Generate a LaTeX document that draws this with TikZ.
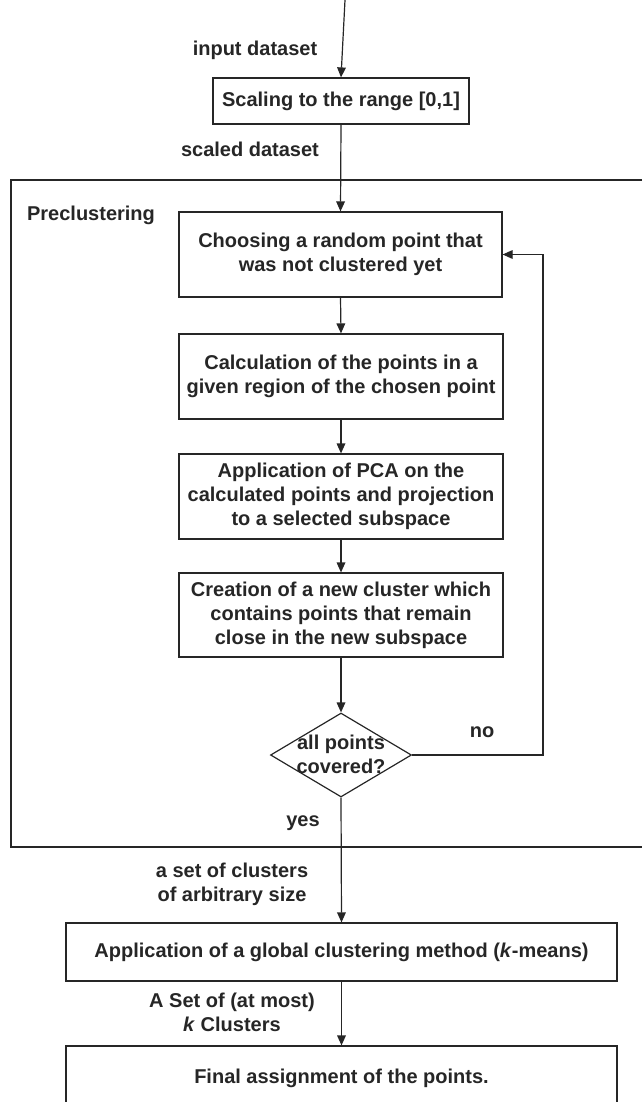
\documentclass[tikz,border=0pt]{standalone}
\usepackage{fontspec}
\setmainfont{Liberation Sans}
\usetikzlibrary{arrows.meta,shapes.geometric}
\definecolor{ink}{gray}{0.15}
\tikzset{
  px/.style={x=0.75pt,y=-0.75pt},
  lbl/.style={font=\bfseries\fontsize{15}{18}\selectfont,text=ink,align=center,inner sep=0pt},
  stepbox/.style={draw=ink,line width=0.9pt,lbl,inner sep=0pt},
  conn/.style={draw=ink,line width=0.9pt,-{Triangle[length=7.5pt,width=6.5pt]}},
  plain/.style={draw=ink,line width=0.9pt}
}
\begin{document}
\begin{tikzpicture}[px]
\useasboundingbox (0,0) rectangle (642,1102);
% preclustering frame
\draw[plain] (642,180) -- (11,180) -- (11,847) -- (642,847);
\node[lbl] (pre) at (91,215) {Preclustering};

\coordinate (top) at (345,0);
\node[stepbox,minimum width=192pt,minimum height=34.5pt] (scale) at (341,101) {Scaling to the range [0,1]};
\node[lbl] (inp) at (255,50) {input dataset};
\node[lbl] (sc) at (250,149) {scaled dataset};

\node[stepbox,minimum width=242.25pt,minimum height=63.75pt] (b1) at (340.5,254.5) {Choosing a random point that\\was not clustered yet};
\node[stepbox,minimum width=243pt,minimum height=63.75pt] (b2) at (341,376.5) {Calculation of the points in a\\given region of the chosen point};
\node[stepbox,minimum width=243pt,minimum height=63.75pt] (b3) at (341,496.5) {Application of PCA on the\\calculated points and projection\\to a selected subspace};
\node[stepbox,minimum width=243pt,minimum height=63pt] (b4) at (341,615) {Creation of a new cluster which\\contains points that remain\\close in the new subspace};

\node[draw=ink,line width=0.9pt,diamond,minimum width=105.75pt,minimum height=63pt,inner sep=0pt] (dec) at (341,755) {};
\node[lbl] (declbl) at (341,754) {all points\\covered?};
\node[lbl] (no) at (482,732) {no};
\node[lbl] (yes) at (303,823) {yes};
\coordinate (loop) at (543,755);

\node[lbl] (set1) at (232,884) {a set of clusters\\of arbitrary size};
\node[stepbox,minimum width=413.25pt,minimum height=43.5pt] (glob) at (341.5,952) {Application of a global clustering method (\textit{k}-means)};
\node[lbl] (set2) at (232,1012) {A Set of (at most)\\\textit{k} Clusters};
\node[stepbox,minimum width=413.25pt,minimum height=48pt] (final) at (341.5,1078) {Final assignment of the points.};

\draw[conn] (top) -- (scale.north);
\draw[conn] (scale.south) -- (b1.north);
\draw[conn] (b1.south) -- (b2.north);
\draw[conn] (b2.south) -- (b3.north);
\draw[conn] (b3.south) -- (b4.north);
\draw[conn] (b4.south) -- (dec.north);
\draw[conn] (dec.east) -- (loop) |- (b1.east);
\draw[conn] (dec.south) -- (glob.north);
\draw[conn] (glob.south) -- (final.north);
\end{tikzpicture}
\end{document}
